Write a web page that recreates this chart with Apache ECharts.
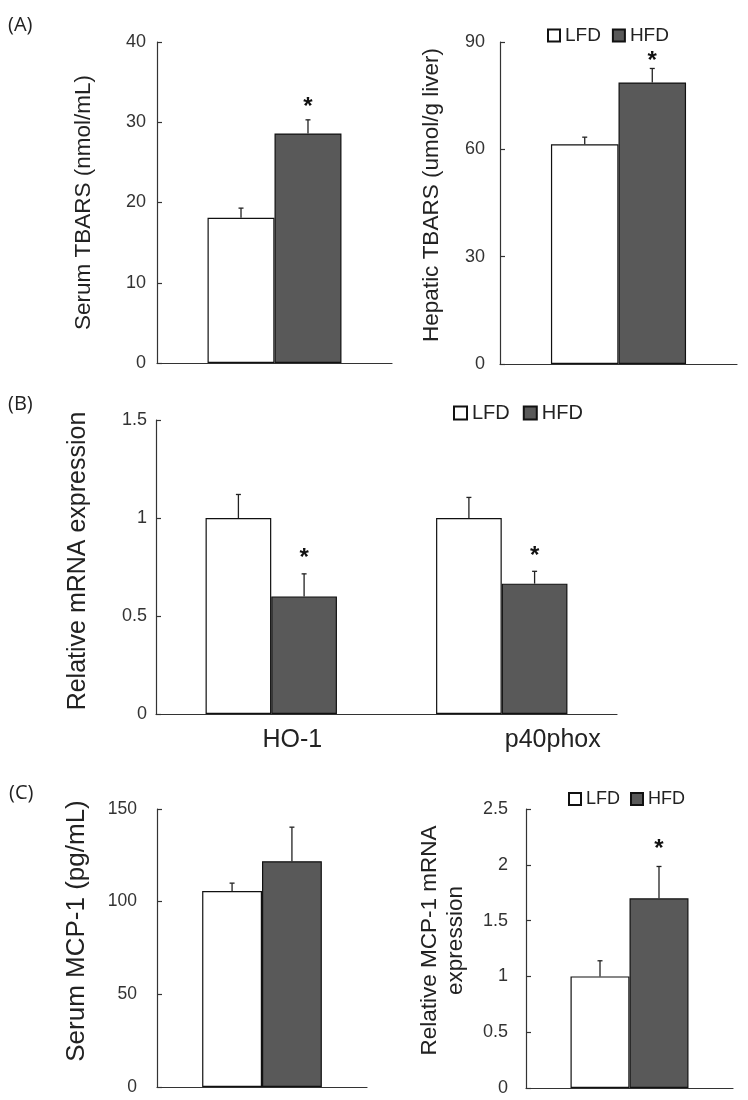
<!DOCTYPE html>
<html>
<head>
<meta charset="utf-8">
<script src="https://cdn.jsdelivr.net/npm/echarts@6/dist/echarts.min.js"></script>
<style>html,body{margin:0;padding:0;background:#fff}#c{width:748px;height:1100px}</style>
</head>
<body>
<div id="c"></div>
<script>
// ---------- data ----------
const groups = ['LFD', 'HFD'];

// (A) left: Serum TBARS (nmol/mL)
const serumTbarsCats = [''];
const serumTbarsLFD = [18.1];
const serumTbarsLFDErr = [1.2];
const serumTbarsHFD = [28.6];
const serumTbarsHFDErr = [1.7];
const serumTbarsHFDSig = [true];
const serumTbarsTicks = [0, 10, 20, 30, 40];

// (A) right: Hepatic TBARS (umol/g liver)
const hepaticTbarsCats = [''];
const hepaticTbarsLFD = [61.4];
const hepaticTbarsLFDErr = [2.0];
const hepaticTbarsHFD = [78.7];
const hepaticTbarsHFDErr = [3.9];
const hepaticTbarsHFDSig = [true];
const hepaticTbarsTicks = [0, 30, 60, 90];

// (B) Relative mRNA expression
const genes = ['HO-1', 'p40phox'];
const mrnaLFD = [1.0, 1.0];
const mrnaLFDErr = [0.12, 0.105];
const mrnaHFD = [0.60, 0.665];
const mrnaHFDErr = [0.115, 0.063];
const mrnaHFDSig = [true, true];
const mrnaTicks = [0, 0.5, 1, 1.5];

// (C) left: Serum MCP-1 (pg/mL)
const serumMcpCats = [''];
const serumMcpLFD = [105.7];
const serumMcpLFDErr = [4.3];
const serumMcpHFD = [121.8];
const serumMcpHFDErr = [18.4];
const serumMcpHFDSig = [false];
const serumMcpTicks = [0, 50, 100, 150];

// (C) right: Relative MCP-1 mRNA expression
const mcpMrnaCats = [''];
const mcpMrnaLFD = [1.0];
const mcpMrnaLFDErr = [0.14];
const mcpMrnaHFD = [1.70];
const mcpMrnaHFDErr = [0.285];
const mcpMrnaHFDSig = [true];
const mcpMrnaTicks = [0, 0.5, 1, 1.5, 2, 2.5];

// ---------- styling ----------
const FONT = '"Liberation Sans", Arial, sans-serif';
const BAR_FRAC = 0.285;
const AXIS_COLOR = '#333';
const HFD_COLOR = '#595959';

const grids = [], xAxes = [], yAxes = [], series = [];

function panel(i, c) {
  grids.push({ left: c.left, top: c.top, width: c.width, height: c.height });
  xAxes.push({
    type: 'category', gridIndex: i, data: c.cats,
    axisLine: { lineStyle: { color: AXIS_COLOR, width: 1.2 } },
    axisTick: { show: false },
    axisLabel: c.xLabel || { show: false }
  });
  const t = c.ticks;
  yAxes.push({
    type: 'value', gridIndex: i,
    min: t[0], max: t[t.length - 1], interval: t[1] - t[0],
    splitLine: { show: false },
    axisLine: { show: true, lineStyle: { color: AXIS_COLOR, width: 1.2 } },
    axisTick: { show: true, inside: true, length: 5, lineStyle: { color: AXIS_COLOR, width: 1.2 } },
    axisLabel: { margin: c.labelMargin, fontSize: c.tickFont, color: '#333', fontFamily: FONT },
    name: c.title, nameLocation: 'middle', nameGap: c.nameGap,
    nameTextStyle: { fontSize: c.titleFont, color: '#222', fontFamily: FONT, padding: c.titlePad || 0, lineHeight: c.titleLineHeight || c.titleFont * 1.15 }
  });
  series.push({
    name: 'LFD', type: 'bar', xAxisIndex: i, yAxisIndex: i, data: c.lfd,
    barWidth: (BAR_FRAC * 100) + '%', barGap: '0%',
    itemStyle: { color: '#ffffff', borderColor: '#111', borderWidth: 1.2 },
    emphasis: { disabled: true }
  });
  series.push({
    name: 'HFD', type: 'bar', xAxisIndex: i, yAxisIndex: i, data: c.hfd,
    barWidth: (BAR_FRAC * 100) + '%', barGap: '0%',
    itemStyle: { color: HFD_COLOR, borderColor: '#111', borderWidth: 1.2 },
    emphasis: { disabled: true }
  });
  const errData = [];
  c.cats.forEach((_, j) => {
    errData.push([j, c.lfd[j], c.lfdErr[j], 0, 0]);
    errData.push([j, c.hfd[j], c.hfdErr[j], c.hfdSig[j] ? 1 : 0, 1]);
  });
  const starGap = c.starGap;
  series.push({
    type: 'custom', xAxisIndex: i, yAxisIndex: i, data: errData, z: 5,
    encode: { x: 0, y: 1 }, silent: true,
    renderItem: (params, api) => {
      const j = api.value(0), m = api.value(1), e = api.value(2), sig = api.value(3), g = api.value(4);
      const band = api.size([1, 0])[0];
      const base = api.coord([j, m]);
      const top = api.coord([j, m + e]);
      const x = base[0] + (g === 0 ? -1 : 1) * band * BAR_FRAC / 2;
      const children = [
        { type: 'line', shape: { x1: x, y1: base[1], x2: x, y2: top[1] }, style: { stroke: '#222', lineWidth: 1.3 } },
        { type: 'line', shape: { x1: x - 2.5, y1: top[1], x2: x + 2.5, y2: top[1] }, style: { stroke: '#222', lineWidth: 1.3 } }
      ];
      if (sig) {
        children.push({ type: 'text', x: x, y: top[1] - starGap,
          style: { text: '*', fill: '#111', font: 'bold 24px ' + FONT, align: 'center', verticalAlign: 'middle' } });
      }
      return { type: 'group', children };
    }
  });
}

panel(0, { left: 157, top: 42, width: 235, height: 321, cats: serumTbarsCats,
  lfd: serumTbarsLFD, lfdErr: serumTbarsLFDErr, hfd: serumTbarsHFD, hfdErr: serumTbarsHFDErr, hfdSig: serumTbarsHFDSig,
  ticks: serumTbarsTicks, labelMargin: 11, tickFont: 18,
  title: 'Serum TBARS (nmol/mL)', titleFont: 22.5, nameGap: 60, starGap: 12 });

panel(1, { left: 500, top: 42, width: 237, height: 322, cats: hepaticTbarsCats,
  lfd: hepaticTbarsLFD, lfdErr: hepaticTbarsLFDErr, hfd: hepaticTbarsHFD, hfdErr: hepaticTbarsHFDErr, hfdSig: hepaticTbarsHFDSig,
  ticks: hepaticTbarsTicks, labelMargin: 15, tickFont: 18,
  title: 'Hepatic TBARS (umol/g liver)', titleFont: 22.5, nameGap: 55, titlePad: [0, 0, 0, 16], starGap: 7 });

panel(2, { left: 156, top: 420, width: 461, height: 294, cats: genes,
  lfd: mrnaLFD, lfdErr: mrnaLFDErr, hfd: mrnaHFD, hfdErr: mrnaHFDErr, hfdSig: mrnaHFDSig,
  ticks: mrnaTicks, labelMargin: 9, tickFont: 18,
  title: 'Relative mRNA expression', titleFont: 25, nameGap: 64, titlePad: [0, 0, 0, 12], starGap: 15,
  xLabel: { show: true, margin: 14, color: '#222',
    formatter: (v, idx) => '{c' + idx + '|' + v + '}',
    rich: { c0: { fontSize: 25, fontFamily: FONT, color: '#222', padding: [0, 0, 0, 42] },
            c1: { fontSize: 25, fontFamily: FONT, color: '#222', padding: [0, 0, 0, 102] } } } });

panel(3, { left: 157, top: 809, width: 210, height: 278, cats: serumMcpCats,
  lfd: serumMcpLFD, lfdErr: serumMcpLFDErr, hfd: serumMcpHFD, hfdErr: serumMcpHFDErr, hfdSig: serumMcpHFDSig,
  ticks: serumMcpTicks, labelMargin: 20, tickFont: 17.5,
  title: 'Serum MCP-1 (pg/mL)', titleFont: 26, nameGap: 65, titlePad: [0, 0, 0, 34], starGap: 16 });

panel(4, { left: 526, top: 809, width: 207, height: 279, cats: mcpMrnaCats,
  lfd: mcpMrnaLFD, lfdErr: mcpMrnaLFDErr, hfd: mcpMrnaHFD, hfdErr: mcpMrnaHFDErr, hfdSig: mcpMrnaHFDSig,
  ticks: mcpMrnaTicks, labelMargin: 18, tickFont: 18,
  title: 'Relative MCP-1 mRNA\nexpression', titleFont: 22.5, titleLineHeight: 26, nameGap: 57, titlePad: [0, 0, 0, 16], starGap: 17 });

const legendBase = (left, top, size, font, gap) => ({
  data: groups, left: left, top: top, padding: 0, itemWidth: size, itemHeight: size, itemGap: gap,
  icon: 'rect', selectedMode: false,
  textStyle: { fontSize: font, fontFamily: FONT, color: '#222' }
});

const PANEL_FONT = { fontFamily: '"Open Sans", "Noto Sans", sans-serif', fontWeight: 'normal', fontSize: 20, color: '#222' };

const option = {
  animation: false,
  backgroundColor: '#ffffff',
  title: [
    { text: '(A)', left: 3, top: 10, textStyle: PANEL_FONT },
    { text: '(B)', left: 3, top: 389, textStyle: PANEL_FONT },
    { text: '(C)', left: 4, top: 778, textStyle: PANEL_FONT }
  ],
  legend: [
    legendBase(547, 26, 12, 19, 11),
    legendBase(453, 403, 13, 20, 13),
    legendBase(568, 790, 12, 18, 10)
  ],
  grid: grids, xAxis: xAxes, yAxis: yAxes, series: series
};

const chart = echarts.init(document.getElementById('c'), null, { renderer: 'canvas' });
chart.setOption(option);
</script>
</body>
</html>
